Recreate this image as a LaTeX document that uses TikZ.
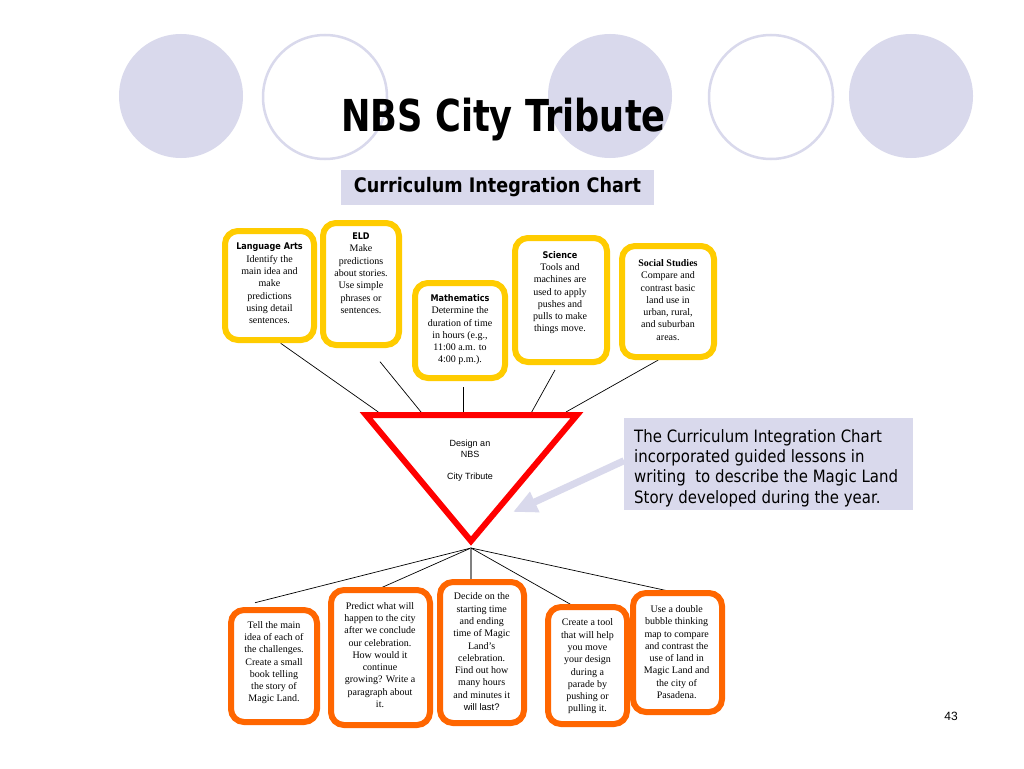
\documentclass[tikz,border=0pt]{standalone}
\usepackage{fontspec}
\setmainfont{Liberation Serif}
\newfontfamily\tah[FakeStretch=0.88]{DejaVu Sans}
\newfontfamily\tahtitle[FakeStretch=0.8]{DejaVu Sans}
\newfontfamily\lsans{Liberation Sans}
\usetikzlibrary{arrows.meta}
\definecolor{lav}{RGB}{217,217,236}
\definecolor{ybord}{RGB}{255,204,0}
\definecolor{obord}{RGB}{255,102,0}
\definecolor{tred}{RGB}{255,0,0}
\newcommand\hd[1]{{\tah\bfseries\fontsize{9.2}{12.3}\selectfont #1}}
\begin{document}
\begin{tikzpicture}[x=1pt,y=-1pt,
  box/.style={draw, line width=6pt, rounded corners=13pt, fill=white, inner sep=0pt},
  ybox/.style={box, draw=ybord},
  obox/.style={box, draw=obord},
  btext/.style={anchor=north, inner sep=0pt, align=center, font=\fontsize{10}{12.3}\selectfont},
  conn/.style={draw=black, line width=0.7pt},
  fcirc/.style={circle, fill=lav, minimum size=124pt, inner sep=0pt},
  ocirc/.style={circle, draw=lav, line width=2.5pt, minimum size=124pt, inner sep=0pt},
]
\fill[white] (0,0) rectangle (1024,768);
\useasboundingbox (0,0) rectangle (1024,768);

% decorative circles
\node[fcirc] (c1) at (181,96) {};
\node[ocirc] (c2) at (325,97) {};
\node[fcirc] (c3) at (610,96) {};
\node[ocirc] (c4) at (771,97) {};
\node[fcirc] (c5) at (911,96) {};

% title
\node[anchor=base, inner sep=0pt, font=\tahtitle\bfseries\fontsize{44}{50}\selectfont] (title) at (503.5,131) {NBS City Tribute};
\node[fill=lav, minimum width=313pt, minimum height=35pt, inner sep=0pt,
      font=\tah\bfseries\fontsize{20}{23}\selectfont] (sub) at (497.5,187.5) {Curriculum Integration Chart};

% coordinates for connectors
\coordinate (laS) at (280.7,343.3);  \coordinate (laT) at (378.3,412);
\coordinate (eldS) at (380,361.7);   \coordinate (eldT) at (421,412);
\coordinate (mathS) at (463.3,387.3);\coordinate (mathT) at (463.3,412);
\coordinate (sciS) at (555,370);     \coordinate (sciT) at (531.7,412);
\coordinate (socS) at (658.3,360);   \coordinate (socT) at (566,412);
\coordinate (apexO) at (471,548);
\coordinate (b1T) at (255,602.7);
\coordinate (b2T) at (380,588.3);
\coordinate (b3T) at (471,579);
\coordinate (b4T) at (571.7,605);
\coordinate (b5T) at (671.7,591.7);

\draw[conn] (laS) -- (laT);
\draw[conn] (eldS) -- (eldT);
\draw[conn] (mathS) -- (mathT);
\draw[conn] (sciS) -- (sciT);
\draw[conn] (socS) -- (socT);
\draw[conn] (apexO) -- (b1T);
\draw[conn] (apexO) -- (b2T);
\draw[draw=gray, line width=1.4pt] (apexO) -- (b3T);
\draw[conn] (apexO) -- (b4T);
\draw[conn] (apexO) -- (b5T);

% top boxes
\node[ybox, minimum width=89pt, minimum height=109pt] (la) at (269.5,285.5) {};
\node[ybox, minimum width=76pt, minimum height=122pt] (eld) at (361,284) {};
\node[ybox, minimum width=90pt, minimum height=95pt] (math) at (460,330.5) {};
\node[ybox, minimum width=92pt, minimum height=124pt] (sci) at (561,300) {};
\node[ybox, minimum width=92pt, minimum height=111pt] (soc) at (668,301.5) {};

\node[btext] (lat) at (269.5,243) {\hd{Language Arts}\\Identify the\\main idea and\\make\\predictions\\using detail\\sentences.};
\node[btext] (eldt) at (361,232.7) {\hd{ELD}\\Make\\predictions\\about stories.\\Use simple\\phrases or\\sentences.};
\node[btext] (matht) at (460,294.3) {\hd{Mathematics}\\Determine the\\duration of time\\in hours (e.g.,\\11:00 a.m. to\\4:00 p.m.).};
\node[btext] (scit) at (560,251) {\hd{Science}\\Tools and\\machines are\\used to apply\\pushes and\\pulls to make\\things move.};
\node[btext] (soct) at (668,259.3) {\textbf{Social Studies}\\Compare and\\contrast basic\\land use in\\urban, rural,\\and suburban\\areas.};

% bottom boxes
\node[obox, minimum width=86pt, minimum height=112pt] (b1) at (274,666) {};
\node[obox, minimum width=99pt, minimum height=135pt] (b2) at (380.5,657.5) {};
\node[obox, minimum width=84pt, minimum height=141pt] (b3) at (482,652.5) {};
\node[obox, minimum width=79pt, minimum height=117pt] (b4) at (587.5,665.5) {};
\node[obox, minimum width=89pt, minimum height=119pt] (b5) at (677.5,652.5) {};

\node[btext] (b1t) at (274,621) {Tell the main\\idea of each of\\the challenges.\\Create a small\\book telling\\the story of\\Magic Land.};
\node[btext] (b2t) at (380,602) {Predict what will\\happen to the city\\after we conclude\\our celebration.\\How would it\\continue\\growing? Write a\\paragraph about\\it.};
\node[btext] (b3t) at (481.7,592.7) {Decide on the\\starting time\\and ending\\time of Magic\\Land’s\\celebration.\\Find out how\\many hours\\and minutes it\\{\lsans\fontsize{9.5}{12.3}\selectfont will last?}};
\node[btext] (b4t) at (587.5,618.7) {Create a tool\\that will help\\you move\\your design\\during a\\parade by\\pushing or\\pulling it.};
\node[btext] (b5t) at (676.7,605.3) {Use a double\\bubble thinking\\map to compare\\and contrast the\\use of land in\\Magic Land and\\the city of\\Pasadena.};

% triangle
\coordinate (tl) at (366,415);
\coordinate (tr) at (577,415);
\coordinate (apex) at (471,541);
\draw[tred, line width=6pt, line join=miter] (tl) -- (tr) -- (apex) -- cycle;
\node[anchor=north, inner sep=0pt, align=center, font=\lsans\fontsize{9}{11}\selectfont] (tri) at (470,440) {Design an\\NBS\\[11pt]City Tribute};

% callout
\node[fill=lav, minimum width=289pt, minimum height=92pt, inner sep=0pt] (call) at (768.5,464) {};
\node[anchor=north west, inner sep=0pt, align=left, font=\tah\fontsize{17}{20.3}\selectfont] (callt) at (634,429) {The Curriculum Integration Chart\\incorporated guided lessons in\\writing\ \ to describe the Magic Land\\Story developed during the year.};
\coordinate (arrS) at (624,460.7);
\coordinate (arrtip) at (513,512);
\draw[lav, line width=7pt, -{Triangle[length=24pt,width=21pt]}] (arrS) -- (arrtip);

% page number
\node[inner sep=0pt, font=\lsans\fontsize{12}{14}\selectfont] (pg) at (951,716) {43};
\end{tikzpicture}
\end{document}
